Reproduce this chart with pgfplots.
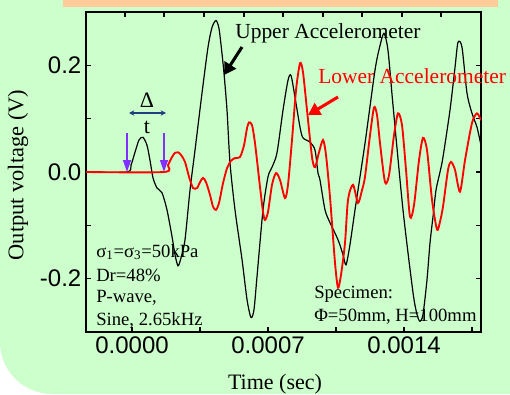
\documentclass[border=0pt]{standalone}
\usepackage{pgfplots}
\pgfplotsset{compat=1.18}
\usepackage{fontspec}
\setmainfont{Liberation Serif}
\setsansfont{Liberation Sans}
\usetikzlibrary{arrows.meta}
\definecolor{bggreen}{RGB}{204,255,204}
\definecolor{bannerorange}{RGB}{255,204,153}
\definecolor{arrowpurple}{RGB}{128,48,255}
\definecolor{dtblue}{RGB}{31,63,127}
\begin{document}
\begin{tikzpicture}
\begin{scope}[x=0.75pt,y=-0.75pt,yshift=295.5pt]
\fill[bggreen] (0,0) -- (510,0) -- (510,394) -- (52,394) .. controls (23.3,394) and (0,370.7) .. (0,342) -- cycle;
\fill[bannerorange] (63,0) rectangle (498,7);
\end{scope}

\begin{axis}[
  at={(64.5pt,46.5pt)}, anchor=south west,
  scale only axis, width=296.25pt, height=240pt,
  xmin=-0.0002368, xmax=0.0017963, ymin=-0.3, ymax=0.3,
  axis line style={line width=1pt},
  tick align=inside, tick style={line width=0.9pt, black},
  major tick length=3.75pt, minor tick length=3.75pt,
  scaled x ticks=false, scaled y ticks=false,
  xtick={0,0.0007,0.0014}, xticklabels={0.0000,0.0007,0.0014},
  minor xtick={0.00035,0.00105,0.00175},
  xtick pos=bottom,
  ytick={-0.2,0,0.2}, yticklabels={-0.2,0.0,0.2},
  minor ytick={-0.1,0.1},
  ytick pos=both, yticklabel pos=left,
  ticklabel style={font=\fontsize{18}{18}\selectfont\sffamily},
]
\addplot[black, line width=0.9pt, smooth, tension=0.45] coordinates {
(-0.0002368,0) (-0.0000257,0) (-0.0000051,0.013) (0.0000154,0.037) (0.0000360,0.060) (0.0000566,0.065) (0.0000772,0.050) (0.0000926,0.022) (0.0001081,-0.011) (0.0001287,-0.030) (0.0001544,-0.039) (0.0001801,-0.071) (0.0002059,-0.121) (0.0002213,-0.155) (0.0002368,-0.176) (0.0002522,-0.161) (0.0002728,-0.127) (0.0002985,-0.034) (0.0003243,0.041) (0.0003603,0.148) (0.0003912,0.234) (0.0004118,0.271) (0.0004323,0.284) (0.0004478,0.269) (0.0004632,0.222) (0.0004735,0.185) (0.0004890,0.116) (0.0005044,0.017) (0.0005301,-0.071) (0.0005662,-0.164) (0.0005919,-0.239) (0.0006125,-0.273) (0.0006279,-0.258) (0.0006434,-0.196) (0.0006743,-0.071) (0.0007000,-0.009) (0.0007206,0.009) (0.0007463,0.036) (0.0007772,0.116) (0.0008029,0.172) (0.0008184,0.181) (0.0008390,0.140) (0.0008647,0.084) (0.0008801,0.064) (0.0009162,0.056) (0.0009419,0.041) (0.0009573,-0.002) (0.0009676,-0.015) (0.0009934,-0.071) (0.0010191,-0.095) (0.0010603,-0.127) (0.0010860,-0.155) (0.0011015,-0.174) (0.0011220,-0.136) (0.0011478,-0.071) (0.0011993,0.054) (0.0012507,0.191) (0.0012765,0.237) (0.0012970,0.260) (0.0013176,0.228) (0.0013434,0.125) (0.0013948,-0.071) (0.0014463,-0.226) (0.0014669,-0.267) (0.0014823,-0.280) (0.0014978,-0.267) (0.0015184,-0.202) (0.0015338,-0.133) (0.0015492,-0.084) (0.0015647,-0.034) (0.0015853,0) (0.0016007,0.028) (0.0016367,0.116) (0.0016625,0.196) (0.0016779,0.243) (0.0016985,0.234) (0.0017242,0.148) (0.0017500,0.110) (0.0017757,0.084) (0.0017963,0.050)
};
\addplot[red, line width=1.4pt, smooth, tension=0.45] coordinates {
(-0.0002368,0) (0.0001647,0) (0.0001853,0.013) (0.0002059,0.028) (0.0002213,0.036) (0.0002368,0.037) (0.0002522,0.032) (0.0002728,0.019) (0.0002934,-0.009) (0.0003140,-0.030) (0.0003346,-0.030) (0.0003500,-0.019) (0.0003654,-0.011) (0.0003809,-0.019) (0.0004015,-0.043) (0.0004169,-0.065) (0.0004323,-0.071) (0.0004478,-0.058) (0.0004684,-0.021) (0.0004890,0.007) (0.0005096,0.021) (0.0005301,0.026) (0.0005559,0.028) (0.0005765,0.050) (0.0005919,0.082) (0.0006022,0.093) (0.0006176,0.088) (0.0006331,0.054) (0.0006588,-0.028) (0.0006743,-0.075) (0.0006846,-0.090) (0.0007000,-0.075) (0.0007206,-0.024) (0.0007412,-0.002) (0.0007618,-0.015) (0.0007875,-0.049) (0.0008029,-0.024) (0.0008235,0.060) (0.0008441,0.153) (0.0008647,0.204) (0.0008801,0.187) (0.0009007,0.116) (0.0009265,0.028) (0.0009419,0.009) (0.0009625,0.037) (0.0009831,0.060) (0.0009985,0.032) (0.0010191,-0.047) (0.0010448,-0.170) (0.0010603,-0.217) (0.0010757,-0.193) (0.0010963,-0.133) (0.0011118,-0.052) (0.0011375,-0.024) (0.0011632,-0.058) (0.0011838,-0.034) (0.0011993,-0.009) (0.0012250,0.069) (0.0012456,0.121) (0.0012610,0.107) (0.0012765,0.054) (0.0013022,-0.019) (0.0013228,-0.006) (0.0013485,0.069) (0.0013691,0.110) (0.0013897,0.088) (0.0014103,0.004) (0.0014309,-0.084) (0.0014515,-0.062) (0.0014772,0.022) (0.0014978,0.064) (0.0015184,0.041) (0.0015441,-0.052) (0.0015698,-0.108) (0.0015853,-0.093) (0.0016007,-0.065) (0.0016265,0.004) (0.0016419,0.019) (0.0016625,0.004) (0.0016882,-0.037) (0.0017139,0.022) (0.0017500,0.092) (0.0017757,0.110) (0.0017963,0.097)
};
\end{axis}

\begin{axis}[
  at={(64.5pt,46.5pt)}, anchor=south west,
  scale only axis, width=296.25pt, height=240pt,
  xmin=-0.0002368, xmax=0.0017963, ymin=-0.3, ymax=0.3,
  axis x line*=top, axis y line=none,
  axis line style={draw=none},
  tick align=inside, tick style={line width=0.9pt, black},
  major tick length=3.75pt,
  scaled x ticks=false,
  xtick={-0.0000360,0.0001647,0.0003706,0.0005765,0.0007772,0.0009831,0.0011838,0.0013897,0.0015904},
  xticklabels={},
]
\end{axis}

\begin{scope}[x=0.75pt,y=-0.75pt,yshift=295.5pt]
\draw[arrowpurple, line width=1pt, -{Triangle[width=6pt,length=9pt]}] (127,133) -- (127,172);
\draw[arrowpurple, line width=1pt, -{Triangle[width=6pt,length=9pt]}] (164,133) -- (164,172);
\draw[dtblue, line width=0.8pt, {Stealth[width=4pt,length=4pt]}-{Stealth[width=4pt,length=4pt]}] (129,113) -- (166,113);
\node[font=\fontsize{16.5}{18}\selectfont] at (147,100) {Δ};
\node[font=\fontsize{16.5}{18}\selectfont] at (147,127) {t};
\draw[black, line width=2.3pt, -{Triangle[width=10pt,length=9pt]}] (242,47) -- (224,75);
\draw[red, line width=2.3pt, -{Triangle[width=10pt,length=9pt]}] (338,97) -- (308,115);
\node[anchor=base west, inner sep=0, font=\fontsize{16.1}{19}\selectfont] at (235,38) {Upper Accelerometer};
\node[anchor=base west, inner sep=0, text=red, font=\fontsize{16.1}{19}\selectfont] at (318,83) {Lower Accelerometer};
\node[anchor=base west, inner sep=0, font=\fontsize{14}{16}\selectfont] at (96,257) {σ\textsubscript{1}=σ\textsubscript{3}=50kPa};
\node[anchor=base west, inner sep=0, font=\fontsize{14}{16}\selectfont] at (96,281) {Dr=48\%};
\node[anchor=base west, inner sep=0, font=\fontsize{14}{16}\selectfont] at (96,302) {P-wave,};
\node[anchor=base west, inner sep=0, font=\fontsize{14}{16}\selectfont] at (96,325) {Sine, 2.65kHz};
\node[anchor=base west, inner sep=0, font=\fontsize{14}{16}\selectfont] at (314,298) {Specimen:};
\node[anchor=base west, inner sep=0, font=\fontsize{14}{16}\selectfont] at (314,321) {Φ=50mm, H=100mm};
\node[rotate=90, inner sep=0, font=\fontsize{16.8}{18}\selectfont] at (18,175) {Output voltage (V)};
\node[anchor=base, inner sep=0, font=\fontsize{16.5}{18}\selectfont] at (275,389) {Time (sec)};
\end{scope}
\pgfresetboundingbox
\path[use as bounding box] (0,0) rectangle (382.5pt,295.5pt);
\end{tikzpicture}
\end{document}
